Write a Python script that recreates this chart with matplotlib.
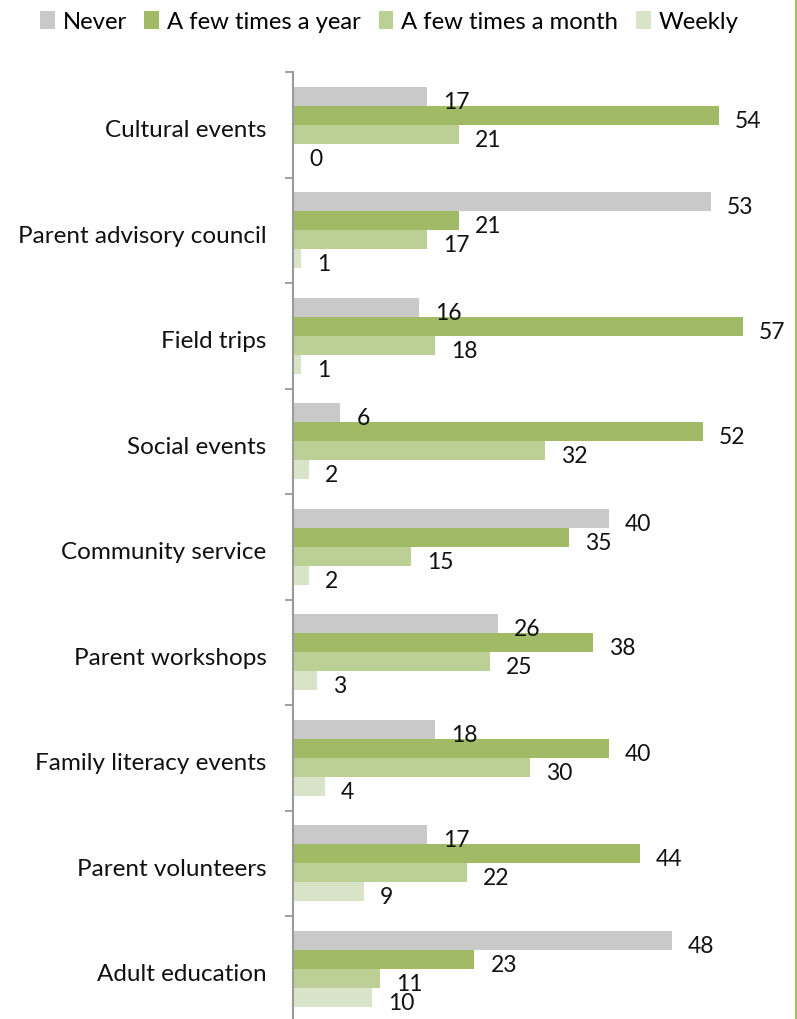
import matplotlib
matplotlib.use("Agg")
import matplotlib.pyplot as plt
from matplotlib.patches import Patch
from matplotlib.lines import Line2D
import numpy as np

plt.rcParams['font.family'] = ['Lato', 'DejaVu Sans']

categories = ["Cultural events", "Parent advisory council", "Field trips", "Social events",
              "Community service", "Parent workshops", "Family literacy events",
              "Parent volunteers", "Adult education"]
series_names = ["Never", "A few times a year", "A few times a month", "Weekly"]
never = [17, 53, 16, 6, 40, 26, 18, 17, 48]
year = [54, 21, 57, 52, 35, 38, 40, 44, 23]
month = [21, 17, 18, 32, 15, 25, 30, 22, 11]
weekly = [0, 1, 1, 2, 2, 3, 4, 9, 10]
colors = ["#C9C9C9", "#A1BA66", "#BCD096", "#D8E3C7"]

W, H = 797, 1019
fig = plt.figure(figsize=(W / 100, H / 100), dpi=100)
ax_left = 293 / W
ax_right = 790 / W
ax_top = 1 - 72 / H
ax_bottom = 1 - 1021.5 / H
ax = fig.add_axes([ax_left, ax_bottom, ax_right - ax_left, ax_top - ax_bottom])

n = len(categories)
ypos = np.arange(n)[::-1].astype(float)
bh = 0.18
offsets = [1.5 * bh, 0.5 * bh, -0.5 * bh, -1.5 * bh]
all_series = [never, year, month, weekly]

for vals, off, col in zip(all_series, offsets, colors):
    ax.barh(ypos + off, vals, height=bh, color=col, linewidth=0)
    for y, v in zip(ypos + off, vals):
        ax.annotate(str(v), xy=(v, y), xytext=(16, -6), textcoords='offset pixels',
                    ha='left', va='center', fontsize=16.5, color='#111111')

ax.set_xlim(0, 63)
ax.set_ylim(-0.5, n - 0.5)
ax.set_yticks(ypos - 0.04)
ax.set_yticklabels(categories, fontsize=17.5, color='#111111')
ax.tick_params(axis='y', which='major', length=0, pad=19)
ax.set_yticks(np.arange(-0.5, n, 1.0), minor=True)
ax.tick_params(axis='y', which='minor', length=6, width=1.3, color='#9A9A9A', direction='out')
ax.set_xticks([])
for s in ['top', 'right', 'bottom']:
    ax.spines[s].set_visible(False)
ax.spines['left'].set_color('#9A9A9A')
ax.spines['left'].set_linewidth(1.5)

handles = [Patch(facecolor=c, edgecolor='none') for c in colors]
fig.legend(handles, series_names, loc='center left', bbox_to_anchor=(40 / W, 1 - 22 / H),
           ncol=4, frameon=False, fontsize=17.2, handlelength=0.62, handleheight=0.75,
           handletextpad=0.32, columnspacing=0.75, borderaxespad=0, borderpad=0)

fig.add_artist(Line2D([795.5 / W, 795.5 / W], [0, 1], transform=fig.transFigure,
                      color='#9BBB59', linewidth=2))

fig.savefig("out.png", dpi=100)
